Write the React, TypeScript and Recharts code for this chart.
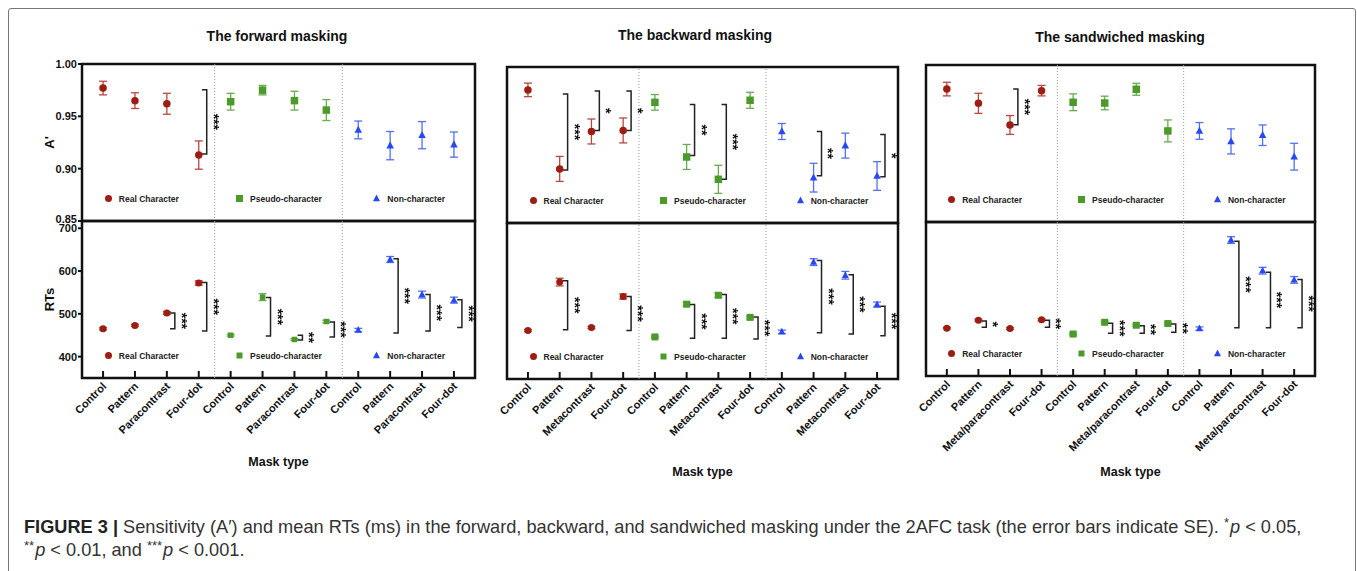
import React from 'react'
import { ScatterChart, Scatter, XAxis, YAxis, ErrorBar, ReferenceLine, ReferenceArea, Legend } from 'recharts'

const FONT = '"Liberation Sans", Arial, Helvetica, sans-serif'

const groupNames = ['Real Character', 'Pseudo-character', 'Non-character']
const groupColors = ['#9e1d12', '#4c9a2a', '#2748f2']
const errorColors = ['#b9473d', '#6aab4e', '#5470f0']

const forwardMasks = ['Control', 'Pattern', 'Paracontrast', 'Four-dot']
const backwardMasks = ['Control', 'Pattern', 'Metacontrast', 'Four-dot']
const sandwichedMasks = ['Control', 'Pattern', 'Meta/paracontrast', 'Four-dot']

const xTicks = [0, 1, 2, 3, 4, 5, 6, 7, 8, 9, 10, 11]
const aTicks = [0.85, 0.9, 0.95, 1.0]
const rtTicks = [400, 500, 600, 700]

// each list: Real character x4, Pseudo-character x4, Non-character x4
const forwardA = [0.977, 0.965, 0.962, 0.913, 0.964, 0.975, 0.965, 0.956, 0.937, 0.922, 0.932, 0.923]
const forwardASe = [0.0065, 0.0075, 0.01, 0.0135, 0.008, 0.0045, 0.009, 0.01, 0.0085, 0.0135, 0.013, 0.012]
const forwardRT = [465, 473, 502, 572, 450, 539, 440, 482, 462, 627, 545, 532]
const forwardRTSe = [2.5, 2.5, 3, 5, 2, 8, 2, 3, 4, 7, 8, 7]

const backwardA = [0.978, 0.902, 0.938, 0.939, 0.966, 0.9135, 0.892, 0.968, 0.938, 0.8936, 0.9244, 0.8952]
const backwardASe = [0.0065, 0.012, 0.012, 0.012, 0.0075, 0.012, 0.0135, 0.0077, 0.0077, 0.0138, 0.012, 0.0138]
const backwardRT = [464, 578, 471, 544, 449, 526, 547, 495, 461, 625, 594, 525]
const backwardRTSe = [2.5, 9, 2.5, 6, 2, 4, 5, 3, 4, 8, 9, 6]

const sandwichedA = [0.977, 0.9634, 0.9427, 0.9755, 0.9644, 0.9637, 0.9768, 0.937, 0.937, 0.927, 0.9329, 0.9124]
const sandwichedASe = [0.0065, 0.0096, 0.009, 0.005, 0.008, 0.0065, 0.0057, 0.0105, 0.008, 0.012, 0.0098, 0.0128]
const sandwichedRT = [464, 483, 463, 484, 450, 478, 471, 475, 463, 674, 601, 579]
const sandwichedRTSe = [2, 2.5, 2, 2.5, 2, 2.5, 2.5, 2.5, 4, 8, 8, 8]

// significance brackets: [condition index, top, bottom, stars]
type Bracket = [number, number, number, string]

const forwardABrackets: Bracket[] = [[3, 0.9755, 0.914, '***']]
const forwardRTBrackets: Bracket[] = [
  [2, 502, 465, '***'], [3, 573, 460, '***'], [5, 538, 448, '***'], [6, 450, 439, '**'],
  [7, 481, 446, '***'], [9, 629, 455, '***'], [10, 545, 460, '***'], [11, 533, 468, '***'],
]
const backwardABrackets: Bracket[] = [
  [1, 0.974, 0.901, '***'], [2, 0.977, 0.939, '*'], [3, 0.977, 0.939, '*'], [5, 0.964, 0.915, '**'],
  [6, 0.964, 0.892, '***'], [9, 0.938, 0.8955, '**'], [11, 0.935, 0.8945, '*'],
]
const backwardRTBrackets: Bracket[] = [
  [1, 581, 466, '***'], [3, 544, 464, '***'], [5, 525, 446, '***'], [6, 549, 446, '***'],
  [7, 496, 444, '***'], [9, 629, 459, '***'], [10, 595, 456, '***'], [11, 521, 452, '***'],
]
const sandwichedABrackets: Bracket[] = [[2, 0.977, 0.943, '***']]
const sandwichedRTBrackets: Bracket[] = [
  [1, 481, 466, '*'], [3, 483, 466, '**'], [5, 475.5, 452, '***'], [6, 470, 452, '**'],
  [7, 474, 454, '**'], [9, 671, 465, '***'], [10, 597, 465, '***'], [11, 580, 465, '***'],
]

const panels = [
  {
    title: 'The forward masking', masks: forwardMasks,
    a: forwardA, aSe: forwardASe, rt: forwardRT, rtSe: forwardRTSe,
    aBrackets: forwardABrackets, rtBrackets: forwardRTBrackets,
    x0: 82, x1: 475, yTop: 64, yMid: 221, yBot: 378, titleX: 277, titleY: 36,
    xLabelH: 88, labelDx: 0, first: true,
  },
  {
    title: 'The backward masking', masks: backwardMasks,
    a: backwardA, aSe: backwardASe, rt: backwardRT, rtSe: backwardRTSe,
    aBrackets: backwardABrackets, rtBrackets: backwardRTBrackets,
    x0: 507, x1: 898, yTop: 67, yMid: 223, yBot: 379, titleX: 695, titleY: 35,
    xLabelH: 97, labelDx: 0, first: false,
  },
  {
    title: 'The sandwiched masking', masks: sandwichedMasks,
    a: sandwichedA, aSe: sandwichedASe, rt: sandwichedRT, rtSe: sandwichedRTSe,
    aBrackets: sandwichedABrackets, rtBrackets: sandwichedRTBrackets,
    x0: 926, x1: 1315, yTop: 65, yMid: 222, yBot: 376, titleX: 1120, titleY: 37,
    xLabelH: 100, labelDx: 10, first: false,
  },
]

const X_DOMAIN = [-0.66, 11.66]

function groupPoints(values: number[], ses: number[], g: number) {
  return [0, 1, 2, 3].map((k) => ({ x: g * 4 + k, y: values[g * 4 + k], se: ses[g * 4 + k] }))
}

function bracketPoints(b: Bracket) {
  const [i, top, bot] = b
  return [
    { x: i + 0.1, y: top },
    { x: i + 0.25, y: top },
    { x: i + 0.25, y: bot },
    { x: i + 0.1, y: bot },
  ]
}

function markerNode(g: number, cx: number, cy: number, size: number) {
  const color = groupColors[g]
  if (g === 0) return <circle cx={cx} cy={cy} r={size / 2} fill={color} />
  if (g === 1) return <rect x={cx - size / 2} y={cy - size / 2} width={size} height={size} fill={color} />
  const h = size * 0.95
  return (
    <polygon
      points={`${cx},${cy - h * 0.6} ${cx - size / 2},${cy + h * 0.4} ${cx + size / 2},${cy + h * 0.4}`}
      fill={color}
    />
  )
}

function StarMark(p: any) {
  if (p.cx == null) return <g />
  return (
    <text
      x={p.cx}
      y={p.cy}
      transform={`rotate(90 ${p.cx} ${p.cy})`}
      textAnchor="middle"
      dominantBaseline="central"
      fontFamily={FONT}
      fontWeight="bold"
      fontSize={14}
      fill="#111"
      style={{ filter: 'grayscale(1)' }}
    >
      {p.payload.s}
    </text>
  )
}

function MaskTick(props: any) {
  const { x, y, payload, masks } = props
  const tx = x + 4
  const ty = y + 6
  return (
    <text
      x={tx}
      y={ty}
      transform={`rotate(-45 ${tx} ${ty})`}
      textAnchor="end"
      fontFamily={FONT}
      fontWeight="bold"
      fontSize={11}
      fill="#111"
    >
      {masks[payload.value % 4]}
    </text>
  )
}

function ValueTick(props: any) {
  const { x, y, payload, isA } = props
  // the lowest A' label sits a little above the panel boundary, as in the original
  const shift = isA && payload.value === 0.85 ? -2 : 0
  return (
    <text
      x={x}
      y={y + shift}
      textAnchor="end"
      dominantBaseline="central"
      fontFamily={FONT}
      fontWeight="bold"
      fontSize={11}
      fill="#111"
    >
      {isA ? payload.value.toFixed(2) : String(payload.value)}
    </text>
  )
}

function LegendRow({ small }: { small: boolean }) {
  return (
    <div style={{ display: 'flex', width: '100%', fontFamily: FONT, fontSize: 8.5, fontWeight: 'bold', color: '#222' }}>
      {groupNames.map((name, g) => (
        <div
          key={name}
          style={{
            flex: g === 1 ? 4 : 4.16,
            display: 'flex',
            justifyContent: 'center',
            alignItems: 'center',
            gap: 6,
            position: 'relative',
            left: g === 0 ? -7 : 0,
          }}
        >
          <svg width={9} height={9} style={{ overflow: 'visible' }}>
            {markerNode(g, 4.5, 4.5, small && g === 1 ? 6 : 7)}
          </svg>
          <span>{name}</span>
        </div>
      ))}
    </div>
  )
}

function MeasureChart({ panel, kind }: { panel: any; kind: 'A' | 'RT' }) {
  const isA = kind === 'A'
  const values = isA ? panel.a : panel.rt
  const ses = isA ? panel.aSe : panel.rtSe
  const brackets: Bracket[] = isA ? panel.aBrackets : panel.rtBrackets
  const yDomain = isA ? [0.85, 1.0] : [350, 717]
  const plotH = isA ? panel.yMid - panel.yTop : panel.yBot - panel.yMid
  const plotW = panel.x1 - panel.x0
  const xH = isA ? 1 : panel.xLabelH
  const bottom = isA ? 10 : 8
  const W = plotW + 80 + 10
  const H = 10 + plotH + xH + bottom
  const left = panel.x0 - 80
  const top = (isA ? panel.yTop : panel.yMid) - 10
  const markerSize = isA ? 7.5 : 7
  const stars = brackets.map((b) => ({ x: b[0] + 0.47, y: (b[1] + b[2]) / 2, s: b[3] }))
  const axisText = { fontFamily: FONT, fontWeight: 'bold', fontSize: 11, fill: '#111' }

  return (
    <div style={{ position: 'absolute', left, top }}>
      <ScatterChart width={W} height={H} margin={{ top: 10, right: 10, bottom, left: 0 }}>
        <XAxis
          type="number"
          dataKey="x"
          domain={X_DOMAIN}
          ticks={xTicks}
          interval={0}
          allowDataOverflow
          height={xH}
          axisLine={false}
          tickLine={{ stroke: '#111', strokeWidth: 2 }}
          tickSize={-7}
          tickMargin={10}
          tick={isA ? false : (p: any) => <MaskTick {...p} masks={panel.masks} />}
          label={
            isA
              ? undefined
              : { value: 'Mask type', position: 'insideBottom', offset: 0, dx: panel.labelDx, style: { ...axisText, fontSize: 12.5 } }
          }
        />
        <YAxis
          type="number"
          dataKey="y"
          domain={yDomain}
          ticks={isA ? aTicks : rtTicks}
          interval={0}
          allowDataOverflow
          width={80}
          axisLine={false}
          tickLine={{ stroke: '#111', strokeWidth: 2 }}
          tickSize={panel.first ? 4 : -6}
          tickMargin={panel.first ? 1 : 0}
          tick={panel.first ? (p: any) => <ValueTick {...p} isA={isA} /> : false}
          label={
            panel.first
              ? { value: isA ? "A'" : 'RTs', angle: -90, position: 'center', dx: 7, style: { ...axisText, fontSize: 13 } }
              : undefined
          }
        />
        <ReferenceLine x={3.5} stroke="#999" strokeDasharray="1 2" strokeWidth={1} ifOverflow="visible" />
        <ReferenceLine x={7.5} stroke="#999" strokeDasharray="1 2" strokeWidth={1} ifOverflow="visible" />
        <ReferenceArea
          x1={X_DOMAIN[0]}
          x2={X_DOMAIN[1]}
          y1={yDomain[0]}
          y2={yDomain[1]}
          fill="none"
          stroke="#111"
          strokeWidth={2.5}
          ifOverflow="visible"
        />
        {brackets.map((b, k) => (
          <Scatter
            key={`br-${k}`}
            data={bracketPoints(b)}
            line={{ stroke: '#222', strokeWidth: 1.5 }}
            lineType="joint"
            shape={() => <g />}
            legendType="none"
            isAnimationActive={false}
          />
        ))}
        {[0, 1, 2].map((g) => (
          <Scatter
            key={groupNames[g]}
            name={groupNames[g]}
            data={groupPoints(values, ses, g)}
            fill={groupColors[g]}
            shape={(p: any) => markerNode(g, p.cx, p.cy, !isA && g === 1 && panel.first ? 5.5 : markerSize)}
            isAnimationActive={false}
          >
            <ErrorBar
              dataKey="se"
              direction="y"
              width={4}
              stroke={errorColors[g]}
              strokeWidth={1.3}
              isAnimationActive={false}
            />
          </Scatter>
        ))}
        <Scatter data={stars} shape={StarMark} legendType="none" isAnimationActive={false} />
        <Legend
          layout="horizontal"
          verticalAlign="middle"
          align="center"
          wrapperStyle={{ left: 80, top: 10 + plotH - 21.5 - 6, width: plotW, height: 12 }}
          content={() => <LegendRow small={!isA} />}
        />
      </ScatterChart>
    </div>
  )
}

const supStyle: React.CSSProperties = { position: 'relative', top: -6, fontSize: 13, lineHeight: 0, marginRight: 1 }

export default function App() {
  return (
    <div
      style={{
        position: 'absolute',
        left: 0,
        top: 0,
        width: 1357,
        height: 571,
        overflow: 'hidden',
        background: '#fff',
        fontFamily: FONT,
      }}
    >
      <div
        style={{
          position: 'absolute',
          left: 8,
          top: 8,
          width: 1348,
          height: 600,
          boxSizing: 'border-box',
          border: '1.5px solid #777',
          borderRadius: 3,
        }}
      />
      {panels.map((panel) => (
        <React.Fragment key={panel.title}>
          <div
            style={{
              position: 'absolute',
              left: panel.titleX,
              top: panel.titleY - 9,
              transform: 'translateX(-50%)',
              whiteSpace: 'nowrap',
              fontSize: 14,
              fontWeight: 'bold',
              color: '#111',
              lineHeight: '18px',
            }}
          >
            {panel.title}
          </div>
          <MeasureChart panel={panel} kind="A" />
          <MeasureChart panel={panel} kind="RT" />
        </React.Fragment>
      ))}
      <div
        style={{
          position: 'absolute',
          left: 24,
          top: 516,
          whiteSpace: 'nowrap',
          fontSize: 18.2,
          lineHeight: '23px',
          color: '#333',
        }}
      >
        <b style={{ color: '#222' }}>FIGURE 3 |</b> Sensitivity (A′) and mean RTs (ms) in the forward, backward, and
        sandwiched masking under the 2AFC task (the error bars indicate SE). <span style={supStyle}>*</span>
        <i>p</i> &lt; 0.05,
        <br />
        <span style={supStyle}>**</span>
        <i>p</i> &lt; 0.01, and <span style={supStyle}>***</span>
        <i>p</i> &lt; 0.001.
      </div>
    </div>
  )
}
